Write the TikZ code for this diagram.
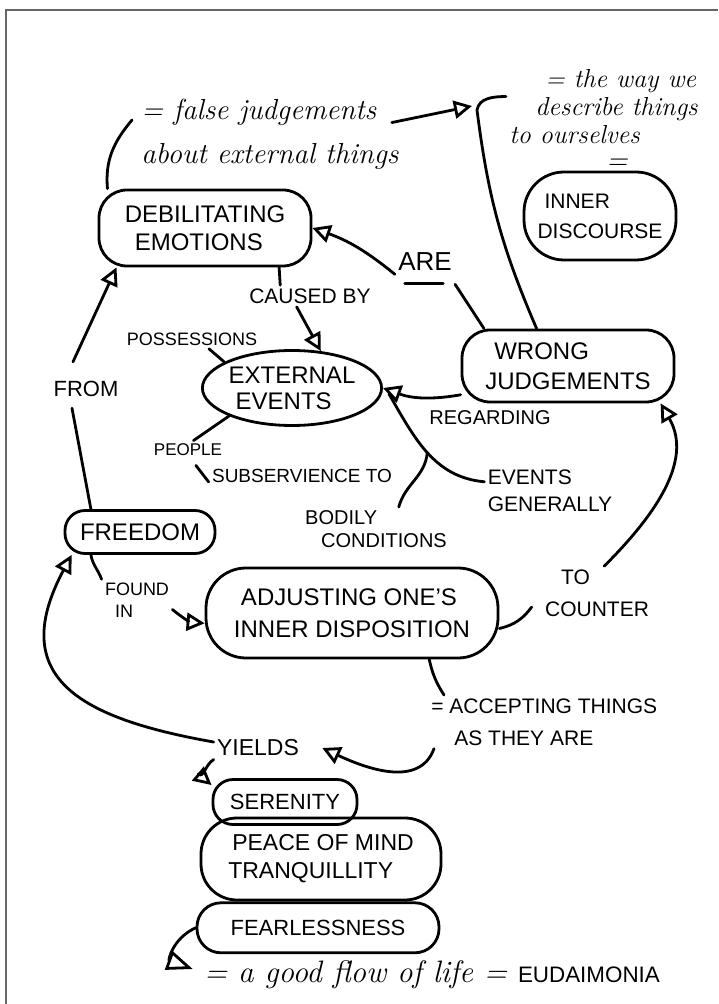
\documentclass[tikz,border=0pt]{standalone}
\usepackage{fontspec}
\setsansfont{Liberation Sans}
\usepackage{tikz}
\usetikzlibrary{arrows.meta,shapes.geometric,positioning}

\begin{document}
\begin{tikzpicture}[auto, x=0.5pt, y=-0.5pt, line width=1.4pt, line cap=round, >={Triangle[open,length=9pt,width=9pt]}]
				\tikzstyle{box}=[draw, rounded corners=14pt, align=left, inner sep=0pt, font=\sffamily\fontsize{12}{14}\selectfont]
				\tikzstyle{tag}=[inner sep=1pt, align=left, font=\sffamily\fontsize{10}{12}\selectfont]
				\tikzstyle{note}=[inner sep=1pt, align=left, font=\itshape\fontsize{14.5}{22}\selectfont]
				\path[use as bounding box, fill=white] (0,0) rectangle (718,1004);
				\draw[black!60, line width=1pt, line cap=butt] (6,1004) -- (6,10) -- (718,10);
				%Notes
				\node[note, anchor=north west] (falseJ) at (138,96) {= false judgements\\ about external things};
				\node[note, anchor=north west, font=\itshape\fontsize{13}{14}\selectfont] (wayWe) at (506,66) {\hspace*{18pt}= the way we\\ \hspace*{13pt}describe things\\ to ourselves};
				\node[note, inner sep=0pt] (eqA) at (617,164) {=};
				\coordinate (tipA) at (472,106);
				\coordinate (junct) at (477,110);
				%Boxes
				\node[box, minimum width=106pt, minimum height=38pt] (debil) at (205,228) {DEBILITATING\\\hspace*{5pt}EMOTIONS};
				\node[box, rounded corners=20pt, minimum width=76pt, minimum height=44pt, font=\sffamily\fontsize{10.5}{15}\selectfont] (innerD) at (600,216) {\hspace*{3.5pt}INNER\\DISCOURSE};
				\node[draw, ellipse, inner sep=0pt, minimum width=88pt, minimum height=37.5pt, align=left, font=\sffamily\fontsize{12}{13}\selectfont] (external) at (292,388) {EXTERNAL\\\hspace*{3.5pt}EVENTS};
				\node[box, minimum width=106pt, minimum height=36pt, font=\sffamily\fontsize{12}{15}\selectfont] (wrongJ) at (568,366) {\hspace*{4.5pt}WRONG\\JUDGEMENTS};
				\node[box, rounded corners=10pt, minimum width=75pt, minimum height=21.5pt] (freedom) at (140,532) {FREEDOM};
				\node[box, rounded corners=20pt, minimum width=146pt, minimum height=45pt, font=\sffamily\fontsize{12}{16}\selectfont] (adjust) at (352,613) {\hspace*{3.5pt}ADJUSTING ONE'S\\INNER DISPOSITION};
				\node[box, rounded corners=10pt, minimum width=72pt, minimum height=22.5pt, font=\sffamily\fontsize{11}{13}\selectfont] (serenity) at (285,802) {SERENITY};
				\node[box, rounded corners=18pt, minimum width=120pt, minimum height=41pt, font=\sffamily\fontsize{11.5}{14}\selectfont] (peace) at (321,859) {\hspace*{2pt}PEACE OF MIND\\TRANQUILLITY};
				\node[box, rounded corners=12pt, minimum width=121pt, minimum height=25pt, font=\sffamily\fontsize{11}{13}\selectfont] (fearless) [below=0pt of peace, xshift=-1.5pt] {FEARLESSNESS};
				%Labels
				\node[tag, font=\sffamily\fontsize{13}{15}\selectfont] (are) at (425,262) {ARE};
				\node[tag, font=\sffamily\fontsize{10.5}{12}\selectfont] (causedBy) at (310,296) {CAUSED BY};
				\node[tag, font=\sffamily\fontsize{9}{11}\selectfont] (poss) at (192,339) {POSSESSIONS};
				\node[tag, font=\sffamily\fontsize{8.5}{10}\selectfont] (people) at (188,450) {PEOPLE};
				\node[tag, font=\sffamily\fontsize{9.5}{11}\selectfont] (subserv) at (302,476) {SUBSERVIENCE TO};
				\node[tag] (regarding) at (490,418) {REGARDING};
				\node[tag, font=\sffamily\fontsize{10.5}{13.5}\selectfont] (eventsG) at (550,491) {EVENTS\\GENERALLY};
				\node[tag, font=\sffamily\fontsize{10}{11.5}\selectfont] (bodily) at (376,529) {BODILY\\\hspace*{8pt}CONDITIONS};
				\node[tag, font=\sffamily\fontsize{11}{13}\selectfont] (from) at (86,389) {FROM};
				\node[tag, font=\sffamily\fontsize{9}{11}\selectfont] (foundIn) at (137,600) {FOUND\\\hspace*{5pt}IN};
				\node[tag, font=\sffamily\fontsize{10.5}{16}\selectfont] (toCounter) at (597,593) {\hspace*{8pt}TO\\COUNTER};
				\node[tag, font=\sffamily\fontsize{10.5}{16}\selectfont, anchor=north west] (accept) at (428,695) {= ACCEPTING THINGS\\\hspace*{11.5pt}AS THEY ARE};
				\node[tag, font=\sffamily\fontsize{11.5}{13}\selectfont] (yields) at (258,748) {YIELDS};
				\node[note, font=\itshape\fontsize{15.5}{18}\selectfont] (eud) at (432,975) {= a good flow of life = {\sffamily\upshape\fontsize{11.2}{14}\selectfont EUDAIMONIA}};
				%Links
				\draw (debil.158) to[out=95,in=-130] ([xshift=-3pt,yshift=-12pt]falseJ.north west);
				\draw[->] ([xshift=-5pt,yshift=6pt]falseJ.east) -- (tipA);
				\draw (wrongJ.130) to[bend left=8] (junct) to[out=80,in=180] ([yshift=5pt]wayWe.west);
				\draw[->] (are.south west) to[bend right=10] (debil.east);
				\draw ([xshift=5pt,yshift=-4.5pt]are.south west) -- ([xshift=-6pt,yshift=-4.5pt]are.south east);
				\draw ([yshift=-5pt]are.south east) -- (wrongJ.156);
				\draw (debil.-28) -- (causedBy.160);
				\draw[->] (causedBy.-141) -- (external.52);
				\draw (poss.-30) -- (external.159);
				\draw (external.204) -- (people.60);
				\draw ([yshift=-3pt]people.-50) -- ([yshift=-3pt]subserv.west);
				\draw[->] (wrongJ.195) to[bend left=15] (external.east);
				\draw (eventsG.172) to[out=175,in=-60] coordinate[pos=0.5] (joinB) ([xshift=3pt,yshift=-3pt]external.east);
				\draw (bodily.44) to[out=75,in=-95] (joinB);
				\draw (freedom.155) -- ([xshift=-7pt,yshift=-4pt]from.south);
				\draw[->] ([xshift=-6.5pt,yshift=8pt]from.north) -- (debil.204);
				\draw (freedom.205) to[out=-80,in=110] (foundIn.north west);
				\draw[->] (foundIn.-15) to[out=-40,in=175] (adjust.184);
				\draw (adjust.-6) to[bend right=20] ([xshift=-5pt,yshift=-7pt]toCounter.west);
				\draw[->] (toCounter.75) to[out=45,in=-60] (wrongJ.-22);
				\draw (adjust.-31) to[bend right=10] ([xshift=8pt]accept.north west);
				\draw[->] ([xshift=3pt]accept.south west) to[out=-110,in=-25] ([xshift=10pt]yields.east);
				\draw[->] ([yshift=3pt]yields.west) to[out=170,in=-118,looseness=1.5] ([xshift=4pt]freedom.south west);
				\draw[->] (yields.south west) to[out=210,in=140] (serenity.167);
				\draw[->, >={Triangle[open,length=13pt,width=10pt]}] (fearless.west) to[out=205,in=160,looseness=1.6] ([xshift=-4pt,yshift=3pt]eud.west);
\end{tikzpicture}
\end{document}
